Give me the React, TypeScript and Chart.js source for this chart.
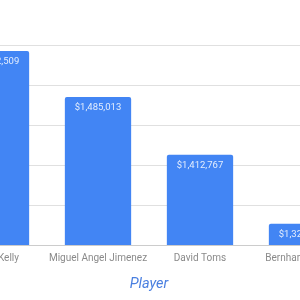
import React, { useEffect, useRef } from "react";
import { Chart, registerables } from "chart.js";

Chart.register(...registerables);

const players = ["Jerry Kelly", "Miguel Angel Jimenez", "David Toms", "Bernhard Langer"];
const earnings = [1542509, 1485013, 1412767, 1326500];
const yMin = 1300000;
const yMax = 1550000;
const yStep = 50000;

const fmt = (v: number) => "$" + v.toLocaleString("en-US");

const valueLabels = {
  id: "valueLabels",
  afterDatasetsDraw(chart: any) {
    const ctx = chart.ctx;
    const meta = chart.getDatasetMeta(0);
    ctx.save();
    ctx.font = "9.5px Roboto";
    ctx.fillStyle = "rgba(255,255,255,0.85)";
    ctx.textAlign = "center";
    ctx.textBaseline = "middle";
    meta.data.forEach((bar: any, i: number) => {
      ctx.fillText(fmt(earnings[i]), bar.x, bar.y + 11);
    });
    ctx.restore();
  },
};

export default function App() {
  const ref = useRef<HTMLCanvasElement>(null);
  useEffect(() => {
    if (!ref.current) return;
    const chart = new Chart(ref.current, {
      type: "bar",
      data: {
        labels: players,
        datasets: [
          {
            data: earnings,
            backgroundColor: "#4285f4",
            borderRadius: 2,
            borderSkipped: "bottom",
            categoryPercentage: 1,
            barPercentage: 0.65,
          },
        ],
      },
      options: {
        animation: false,
        responsive: false,
        maintainAspectRatio: false,
        layout: { padding: { top: 45, left: 0, right: 0, bottom: 0 } },
        plugins: { legend: { display: false }, tooltip: { enabled: false } },
        scales: {
          x: {
            afterFit: (s: any) => {
              s.height = 55;
            },
            grid: { display: false, drawTicks: false },
            border: { display: true, color: "#cccccc" },
            ticks: {
              color: "#8a8a8a",
              font: { family: "Roboto", size: 10 },
              padding: 7,
              maxRotation: 0,
              autoSkip: false,
            },
            title: {
              display: true,
              text: "Player",
              color: "#4a7fe0",
              font: { family: "Roboto", size: 14.5, style: "italic" },
              padding: { top: 0, bottom: 7 },
            },
          },
          y: {
            min: yMin,
            max: yMax,
            afterFit: (s: any) => {
              s.width = 0;
            },
            ticks: { display: false, stepSize: yStep },
            grid: { color: "#e0e0e0", drawTicks: false },
            border: { display: false },
          },
        },
      },
      plugins: [valueLabels],
    });
    return () => chart.destroy();
  }, []);
  return (
    <div
      style={{
        position: "fixed",
        left: 0,
        top: 0,
        width: 300,
        height: 300,
        overflow: "hidden",
        background: "#fff",
      }}
    >
      <canvas
        ref={ref}
        width={408}
        height={300}
        style={{ position: "absolute", left: -55, top: 0, width: 408, height: 300 }}
      />
    </div>
  );
}
